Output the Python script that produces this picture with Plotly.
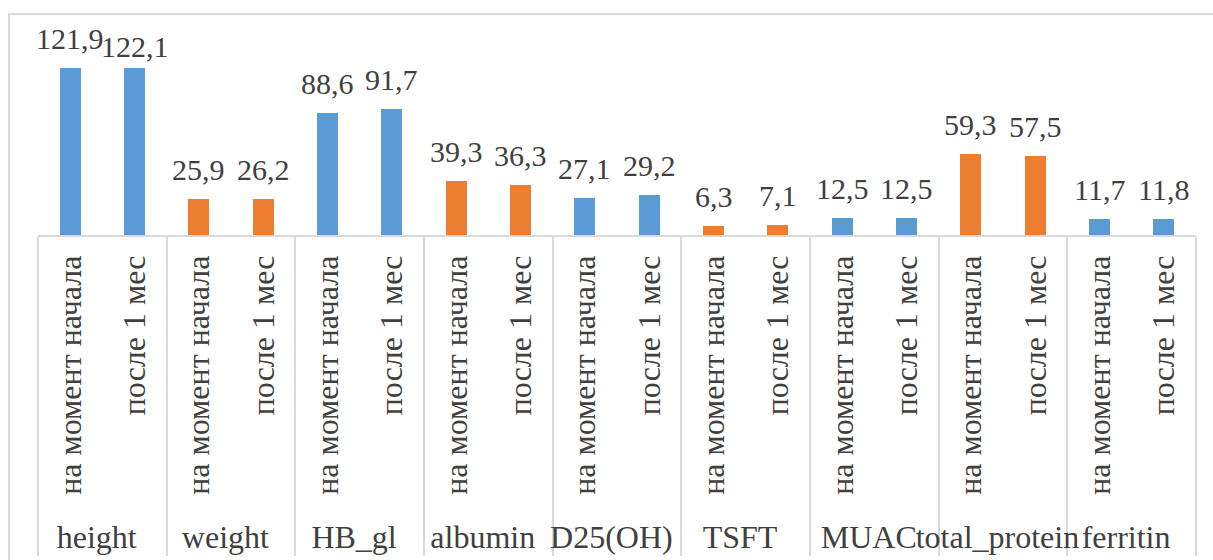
import plotly.graph_objects as go

# Показатели до и после месяца наблюдения
groups = ["height", "weight", "HB_gl", "albumin", "D25(OH)", "TSFT",
          "MUAC", "total_protein", "ferritin"]
periods = ["на момент начала", "после 1 мес"]
start_values = [121.9, 25.9, 88.6, 39.3, 27.1, 6.3, 12.5, 59.3, 11.7]
month_values = [122.1, 26.2, 91.7, 36.3, 29.2, 7.1, 12.5, 57.5, 11.8]

BLUE = "#5B9BD5"
ORANGE = "#ED7D31"
group_colors = [BLUE, ORANGE, BLUE, ORANGE, BLUE, ORANGE, BLUE, ORANGE, BLUE]
TEXT = "#404040"
FONT = "Liberation Serif"

outer = []
inner = []
values = []
colors = []
for g, a, b, c in zip(groups, start_values, month_values, group_colors):
    for p, v in zip(periods, (a, b)):
        outer.append(g)
        inner.append(p)
        values.append(v)
        colors.append(c)

fig = go.Figure(
    go.Bar(
        x=[outer, inner],
        y=values,
        marker=dict(color=colors, line=dict(width=0)),
        width=0.33,
        hoverinfo="y",
    )
)

# Подписи значений над столбцами (подпись 122,1 опущена, чтобы не налезать на 121,9)
label_shift = {1: -8}
n = len(values)
for i, v in enumerate(values):
    fig.add_annotation(
        x=(i + 0.5) / n, xref="paper",
        y=v, yref="y",
        text=f"{v:.1f}".replace(".", ","),
        showarrow=False,
        xanchor="center",
        yanchor="bottom",
        yshift=11 + label_shift.get(i, 0),
        font=dict(family=FONT, size=30, color=TEXT),
    )

# Рамка области диаграммы
L, R = 38, 1196
W = R - L
fig.add_shape(
    type="rect", xref="paper", yref="paper",
    x0=(9 - L) / W, x1=(1230 - L) / W,
    y0=-5, y1=(560 - 325 - 14) / (560 - 325 - 43),
    line=dict(color="#d9d9d9", width=2),
    fillcolor="rgba(0,0,0,0)",
    layer="below",
)

fig.update_layout(
    width=1213, height=560,
    margin=dict(l=L, r=1213 - R, t=43, b=325, autoexpand=False),
    paper_bgcolor="white", plot_bgcolor="white",
    showlegend=False,
    bargap=0,
    font=dict(family=FONT, size=32, color=TEXT),
    xaxis=dict(
        type="multicategory",
        automargin=False,
        tickangle=-90,
        showline=True, linecolor="#d9d9d9", linewidth=1.5,
        showdividers=True, dividercolor="#d9d9d9", dividerwidth=1.5,
        ticks="",
        ticklabelstandoff=6,
        tickfont=dict(family=FONT, size=32, color=TEXT),
        showgrid=False,
    ),
    yaxis=dict(
        range=[0, 140],
        visible=False,
        automargin=False,
        showgrid=False,
        zeroline=False,
    ),
)

fig.write_html("out.html")
